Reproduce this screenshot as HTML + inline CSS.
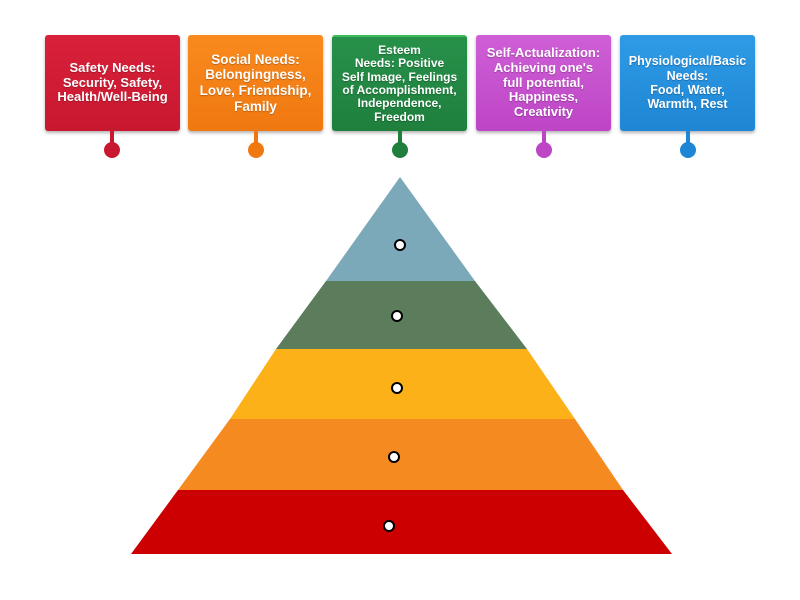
<!DOCTYPE html>
<html><head><style>
body{margin:0;width:800px;height:600px;background:#fff;position:relative;overflow:hidden;font-family:"Liberation Sans","DejaVu Sans",sans-serif}
.b{position:absolute;top:35px;width:135px;height:96px;box-sizing:border-box;border-radius:3px;color:#fff;font-weight:bold;text-align:center;display:flex;align-items:center;justify-content:center;box-shadow:0 2px 3px rgba(0,0,0,.3);line-height:1.15;text-shadow:0 1px 1px rgba(0,0,0,.25)}
.s{position:absolute;top:131px;width:4px;height:12px}
.d{position:absolute;top:142px;width:16px;height:16px;border-radius:50%}
.p{position:absolute;width:12px;height:12px;border-radius:50%;background:#fff;border:2.5px solid #000;box-sizing:border-box}
</style></head><body>
<div class="b" style="left:45px;background:linear-gradient(#d9203a,#c81830);font-size:13px">Safety Needs:<br>Security, Safety,<br>Health/Well-Being</div>
<div class="b" style="left:188px;background:linear-gradient(#f98a1e,#f07810);font-size:13.5px">Social Needs:<br>Belongingness,<br>Love, Friendship,<br>Family</div>
<div class="b" style="left:332px;background:linear-gradient(#27914a,#1f7f3d);font-size:12px;line-height:1.12;border-top:2px solid #3cba5c">Esteem<br>Needs: Positive<br>Self Image, Feelings<br>of Accomplishment,<br>Independence,<br>Freedom</div>
<div class="b" style="left:476px;background:linear-gradient(#cf5fd6,#bd45c6);font-size:13px">Self-Actualization:<br>Achieving one's<br>full potential,<br>Happiness,<br>Creativity</div>
<div class="b" style="left:620px;background:linear-gradient(#2f9be6,#1e86d4);font-size:12.5px">Physiological/Basic<br>Needs:<br>Food, Water,<br>Warmth, Rest</div>
<div class="s" style="left:110px;background:#c81830"></div><div class="d" style="left:104px;background:#c81830"></div>
<div class="s" style="left:254px;background:#f07810"></div><div class="d" style="left:248px;background:#f07810"></div>
<div class="s" style="left:398px;background:#1f7f3d"></div><div class="d" style="left:392px;background:#1f7f3d"></div>
<div class="s" style="left:542px;background:#bd45c6"></div><div class="d" style="left:536px;background:#bd45c6"></div>
<div class="s" style="left:686px;background:#1e86d4"></div><div class="d" style="left:680px;background:#1e86d4"></div>
<svg width="800" height="600" style="position:absolute;left:0;top:0">
<polygon points="400,177 475,281 326,281" fill="#7ba9b9"/>
<polygon points="326,281 475,281 527,349 276,349" fill="#5b7d5b"/>
<polygon points="276,349 527,349 575,419 230,419" fill="#fbb117"/>
<polygon points="230,419 575,419 623,490 178,490" fill="#f58a20"/>
<polygon points="178,490 623,490 672,554 131,554" fill="#cc0000"/>
</svg>
<div class="p" style="left:394px;top:239px"></div>
<div class="p" style="left:391px;top:310px"></div>
<div class="p" style="left:391px;top:382px"></div>
<div class="p" style="left:388px;top:451px"></div>
<div class="p" style="left:383px;top:520px"></div>
</body></html>
